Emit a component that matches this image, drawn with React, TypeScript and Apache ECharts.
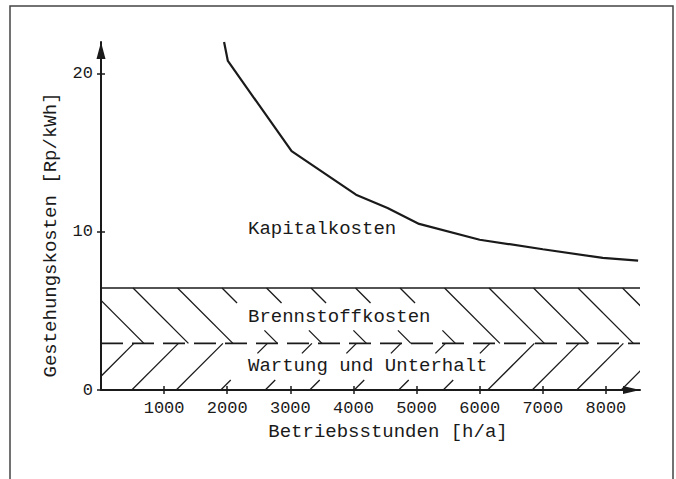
import React, { useEffect, useRef } from "react";
import * as echarts from "echarts";

// ---- data ----
const HOURS = [1950, 2010, 3020, 4040, 4540, 5040, 6000, 7000, 7950, 8510];
const KAPITAL = [22.0, 20.8, 15.1, 12.35, 11.5, 10.5, 9.5, 8.9, 8.35, 8.18];
const FUEL_TOP = 6.45; // upper edge of "Brennstoffkosten" band
const MAINT_TOP = 2.95; // upper edge of "Wartung und Unterhalt" band (dashed)
const X_MAX = 8540;
const Y_MAX = 22;
const X_TICKS = [1000, 2000, 3000, 4000, 5000, 6000, 7000, 8000];
const Y_TICKS = [0, 10, 20];
// chevron tips of the hatching (on the dashed line), in h/a
const HATCH_TIPS = [680, 1385, 2090, 2795, 3500, 4205, 4910, 5615, 6320, 7025, 7730, 8435, 9140];
const HATCH_UPPER_BROKEN = [0, 0, 0, 1, 1, 1, 1, 1, 0, 0, 0, 0, 0];
const HATCH_LOWER_BROKEN = [0, 0, 0, 1, 1, 1, 1, 1, 1, 0, 0, 0, 0];
const LABEL_CAPITAL = "Kapitalkosten";
const LABEL_FUEL = "Brennstoffkosten";
const LABEL_MAINT = "Wartung und Unterhalt";
const X_NAME = "Betriebsstunden [h/a]";
const Y_NAME = "Gestehungskosten [Rp/kWh]";

const INK = "#1a1a1a";
const FONT = "'Liberation Mono', 'DejaVu Sans Mono', monospace";

export default function App() {
  const ref = useRef<HTMLDivElement>(null);

  useEffect(() => {
    if (!ref.current) return;
    const chart = echarts.init(ref.current, undefined, { renderer: "svg" });

    const hatchData = HATCH_TIPS.map((t, i) => [t, HATCH_UPPER_BROKEN[i], HATCH_LOWER_BROKEN[i]]);
    const plain = (v: number) => String(v);

    const option: any = {
      animation: false,
      backgroundColor: "#ffffff",
      grid: { left: 101, top: 42, right: 36, bottom: 89, containLabel: false },
      xAxis: [
        {
          type: "value",
          min: 0,
          max: X_MAX,
          position: "bottom",
          axisLine: {
            show: true,
            onZero: false,
            symbol: ["none", "triangle"],
            symbolSize: [8, 17],
            symbolOffset: [0, -8.5],
            lineStyle: { color: INK, width: 2 },
          },
          axisTick: { show: true, customValues: X_TICKS, length: 4, lineStyle: { color: INK, width: 1.5 } },
          axisLabel: { customValues: X_TICKS, formatter: plain, margin: 10, fontFamily: FONT, fontSize: 17, color: INK },
          splitLine: { show: false },
        },
        {
          type: "value",
          min: 0,
          max: X_MAX,
          position: "bottom",
          axisLine: { show: false },
          axisTick: { show: true, inside: true, customValues: X_TICKS, length: 4, lineStyle: { color: INK, width: 1.5 } },
          axisLabel: { show: false },
          splitLine: { show: false },
        },
      ],
      yAxis: [
        {
          type: "value",
          min: 0,
          max: Y_MAX,
          position: "left",
          axisLine: {
            show: true,
            onZero: false,
            symbol: ["none", "triangle"],
            symbolSize: [9, 17],
            symbolOffset: [0, -8.5],
            lineStyle: { color: INK, width: 2 },
          },
          axisTick: { show: true, customValues: Y_TICKS, length: 4, lineStyle: { color: INK, width: 1.5 } },
          axisLabel: { customValues: Y_TICKS, formatter: plain, margin: 8, fontFamily: FONT, fontSize: 17, color: INK },
          splitLine: { show: false },
        },
        {
          type: "value",
          min: 0,
          max: Y_MAX,
          position: "left",
          axisLine: { show: false },
          axisTick: { show: true, inside: true, customValues: Y_TICKS, length: 4, lineStyle: { color: INK, width: 1.5 } },
          axisLabel: { show: false },
          splitLine: { show: false },
        },
      ],
      series: [
        {
          name: LABEL_CAPITAL,
          type: "line",
          xAxisIndex: 0,
          yAxisIndex: 0,
          data: HOURS.map((h, i) => [h, KAPITAL[i]]),
          showSymbol: false,
          symbol: "none",
          lineStyle: { color: INK, width: 2.2 },
          z: 5,
        },
        {
          name: LABEL_FUEL,
          type: "line",
          xAxisIndex: 0,
          yAxisIndex: 0,
          data: [[0, FUEL_TOP], [X_MAX, FUEL_TOP]],
          symbol: "none",
          lineStyle: { color: INK, width: 1.6 },
        },
        {
          name: LABEL_MAINT,
          type: "line",
          xAxisIndex: 0,
          yAxisIndex: 0,
          data: [[0, MAINT_TOP], [X_MAX, MAINT_TOP]],
          symbol: "none",
          lineStyle: { color: INK, width: 1.6, type: [22, 9] },
        },
        {
          name: "hatch",
          type: "custom",
          xAxisIndex: 0,
          yAxisIndex: 0,
          clip: true,
          data: hatchData,
          renderItem: (params: any, api: any) => {
            const tip = api.value(0);
            const upBroken = api.value(1);
            const loBroken = api.value(2);
            const p = api.coord([tip, MAINT_TOP]);
            const yD = p[1];
            const yT = api.coord([0, FUEL_TOP])[1];
            const yB = api.coord([0, 0])[1];
            const off = 10;
            const up = (y: number) => [p[0] - (yD - y), y];
            const lo = (y: number) => [p[0] - off - (y - yD), y];
            const segs: number[][][] = [];
            if (upBroken) {
              segs.push([up(yT), up(yT + 15)]);
              segs.push([up(yD - 13), up(yD)]);
            } else {
              segs.push([up(yT), up(yD)]);
            }
            if (loBroken) {
              segs.push([lo(yD), lo(yD + 10)]);
              segs.push([lo(yB - 10), lo(yB)]);
            } else {
              segs.push([lo(yD), lo(yB)]);
            }
            return {
              type: "group",
              children: segs.map((s) => ({
                type: "line",
                shape: { x1: s[0][0], y1: s[0][1], x2: s[1][0], y2: s[1][1] },
                style: { stroke: INK, lineWidth: 1.3 },
              })),
            };
          },
        },
      ],
      graphic: [
        {
          type: "rect",
          shape: { x: 10, y: 6, width: 663, height: 480 },
          style: { fill: "none", stroke: "#444", lineWidth: 1.5 },
          silent: true,
        },
        {
          type: "text",
          x: 51,
          y: 235,
          rotation: Math.PI / 2,
          style: { text: Y_NAME, fontFamily: FONT, fontSize: 19, fill: INK, align: "center", verticalAlign: "middle" },
        },
        {
          type: "text",
          x: 388,
          y: 432,
          style: { text: X_NAME, fontFamily: FONT, fontSize: 19, fill: INK, align: "center", verticalAlign: "middle" },
        },
        {
          type: "text",
          x: 248,
          y: 229,
          style: { text: LABEL_CAPITAL, fontFamily: FONT, fontSize: 19, fill: INK, align: "left", verticalAlign: "middle" },
        },
        {
          type: "text",
          x: 248,
          y: 317,
          style: { text: LABEL_FUEL, fontFamily: FONT, fontSize: 19, fill: INK, align: "left", verticalAlign: "middle" },
        },
        {
          type: "text",
          x: 248,
          y: 366,
          style: { text: LABEL_MAINT, fontFamily: FONT, fontSize: 19, fill: INK, align: "left", verticalAlign: "middle" },
        },
      ],
    };

    chart.setOption(option);
    return () => chart.dispose();
  }, []);

  return (
    <div
      ref={ref}
      style={{ position: "fixed", left: 0, top: 0, width: 676, height: 479, background: "#fff" }}
    />
  );
}
